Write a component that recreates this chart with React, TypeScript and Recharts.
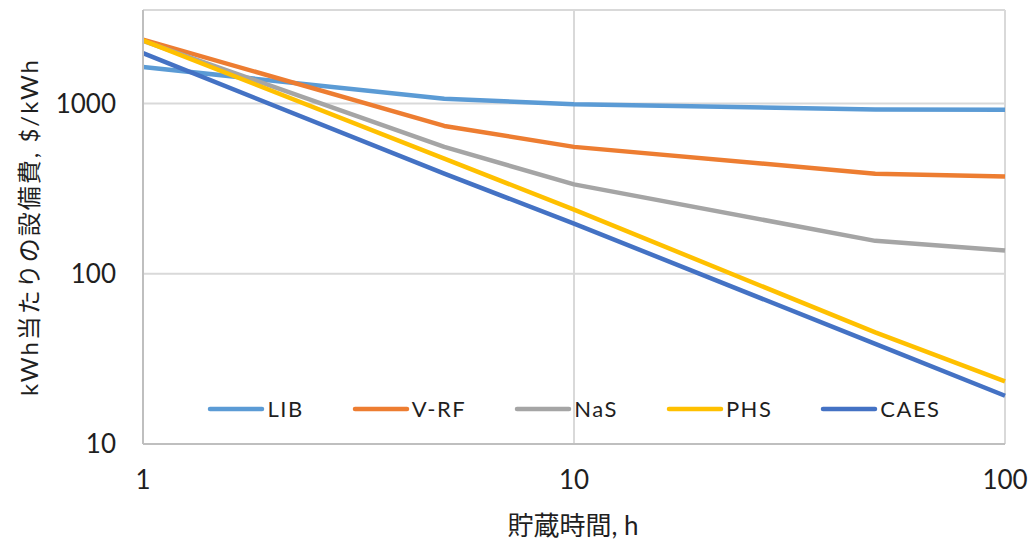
// Storage cost vs storage duration, log-log. Five technologies, one point per
// duration; lines only, legend sits inside the plot near the bottom.

import { CartesianGrid, Legend, Line, LineChart, XAxis, YAxis } from 'recharts';

const hours = [1, 5, 10, 50, 100];
const lib = [1640, 1065, 990, 922, 918];
const vrf = [2370, 738, 556, 387, 373];
const nas = [2330, 556, 335, 156, 137];
const phs = [2350, 474, 238, 45.2, 23.3];
const caes = [1975, 387, 197, 38.7, 19.2];

const seriesNames = ['LIB', 'V-RF', 'NaS', 'PHS', 'CAES'];
const seriesValues = [lib, vrf, nas, phs, caes];
const seriesColors = ['#5B9BD5', '#ED7D31', '#A5A5A5', '#FFC000', '#4472C4'];

const xTicks = [1, 10, 100];
const yTicks = [10, 100, 1000];

const xTitle = '貯蔵時間, h';
const yTitle = 'kWh当たりの設備費, $/kWh';

const FONT = 'Lato, "Noto Sans CJK JP", sans-serif';
const TEXT = '#1f1f1f';

const data = hours.map((h, i) => {
  const row: Record<string, number> = { h };
  seriesNames.forEach((name, k) => {
    row[name] = seriesValues[k][i];
  });
  return row;
});

// keeps the series order (Recharts would sort the payload by name)
function LegendContent() {
  return (
    <div style={{ display: 'flex', justifyContent: 'center', alignItems: 'center', gap: 48 }}>
      {seriesNames.map((name, i) => (
        <div key={name} style={{ display: 'flex', alignItems: 'center' }}>
          <svg width={58} height={10}>
            <line x1={3} y1={5} x2={55} y2={5} stroke={seriesColors[i]} strokeWidth={4.5} strokeLinecap="round" />
          </svg>
          <span style={{ marginLeft: 2, fontSize: 22, color: TEXT, letterSpacing: 1.5 }}>{name}</span>
        </div>
      ))}
    </div>
  );
}

export default function App() {
  return (
    <div style={{ position: 'absolute', left: 0, top: 0, fontFamily: FONT, background: '#fff' }}>
      <LineChart width={1031} height={542} data={data} margin={{ top: 10, right: 26, bottom: 0, left: 0 }}>
        <CartesianGrid stroke="#d9d9d9" strokeWidth={2} />
        <XAxis
          dataKey="h"
          type="number"
          scale="log"
          domain={[1, 100]}
          ticks={xTicks}
          height={98}
          tickSize={0}
          tickMargin={27}
          axisLine={{ stroke: '#bfbfbf', strokeWidth: 2 }}
          tick={{ fontSize: 26, fill: TEXT, fontFamily: FONT }}
          label={{
            content: () => (
              <text x={573} y={525} textAnchor="middle" dominantBaseline="central" fontSize={26} fill={TEXT} fontFamily={FONT}>
                {xTitle}
              </text>
            ),
          }}
        />
        <YAxis
          type="number"
          scale="log"
          domain={[10, 3540]}
          allowDataOverflow
          ticks={yTicks}
          width={143}
          tickSize={0}
          tickMargin={27}
          axisLine={{ stroke: '#bfbfbf', strokeWidth: 2 }}
          tick={{ fontSize: 26, fill: TEXT, fontFamily: FONT }}
          label={{
            content: () => (
              <text
                x={28}
                y={227}
                transform="rotate(-90 28 227)"
                textAnchor="middle"
                dominantBaseline="central"
                fontSize={24}
                fill={TEXT}
                fontFamily={FONT}
                letterSpacing={2}
              >
                {yTitle}
              </text>
            ),
          }}
        />
        <Legend
          layout="horizontal"
          verticalAlign="middle"
          align="center"
          content={<LegendContent />}
          wrapperStyle={{ left: 143, width: 862, top: 395 }}
        />
        {seriesNames.map((name, i) => (
          <Line
            key={name}
            dataKey={name}
            name={name}
            type="linear"
            stroke={seriesColors[i]}
            strokeWidth={4.5}
            strokeLinejoin="round"
            dot={false}
            activeDot={false}
            isAnimationActive={false}
          />
        ))}
      </LineChart>
    </div>
  );
}
